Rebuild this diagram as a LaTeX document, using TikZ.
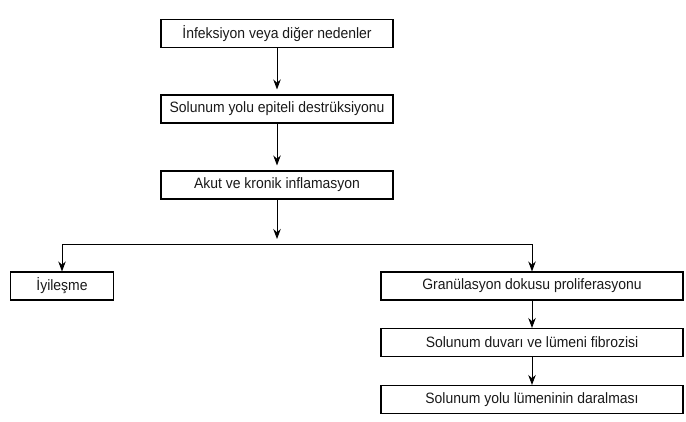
\documentclass[tikz,border=0pt]{standalone}
\usepackage{fontspec}
\setmainfont{Liberation Sans}[FakeStretch=0.93]
\usetikzlibrary{arrows.meta}
\tikzset{
  kutu/.style={draw, line width=1.1pt, minimum height=28pt, inner sep=0pt,
    font=\fontsize{15}{17}\selectfont, text=black!90},
  ok/.style={line width=0.9pt, -{Stealth[length=10pt,width=7.5pt]}}
}
\begin{document}
\begin{tikzpicture}[x=1pt,y=-1pt]
            \useasboundingbox (0,0) rectangle (686,422);
            % Ana zincir
            \node[kutu, minimum width=232pt] (enf) at (277,33.5) {İnfeksiyon veya diğer nedenler};
            \node[kutu, minimum width=232pt] (des) at (277,109) {Solunum yolu epiteli destrüksiyonu};
            \node[kutu, minimum width=232pt] (inf) at (277,185) {Akut ve kronik inflamasyon};
            \draw[ok, shorten >=5pt] (enf) -- (des);
            \draw[ok, shorten >=5pt] (des) -- (inf);
            % Ayrilma
            \coordinate (ayr) at (277,244);
            \draw[ok, shorten >=5pt] (inf) -- (ayr);
            \node[kutu, minimum width=103pt] (iyi) at (62,286) {İyileşme};
            \node[kutu, minimum width=302pt] (gra) at (532,286) {Granülasyon dokusu proliferasyonu};
            \draw[ok] (ayr) -| (iyi);
            \draw[ok] (ayr) -| (gra);
            % Sag kol
            \node[kutu, minimum width=302pt] (fib) at (532,342.5) {Solunum duvarı ve lümeni fibrozisi};
            \node[kutu, minimum width=302pt] (dar) at (532,399.5) {Solunum yolu lümeninin daralması};
            \draw[ok] (gra) -- (fib);
            \draw[ok] (fib) -- (dar);
        \end{tikzpicture}
\end{document}
